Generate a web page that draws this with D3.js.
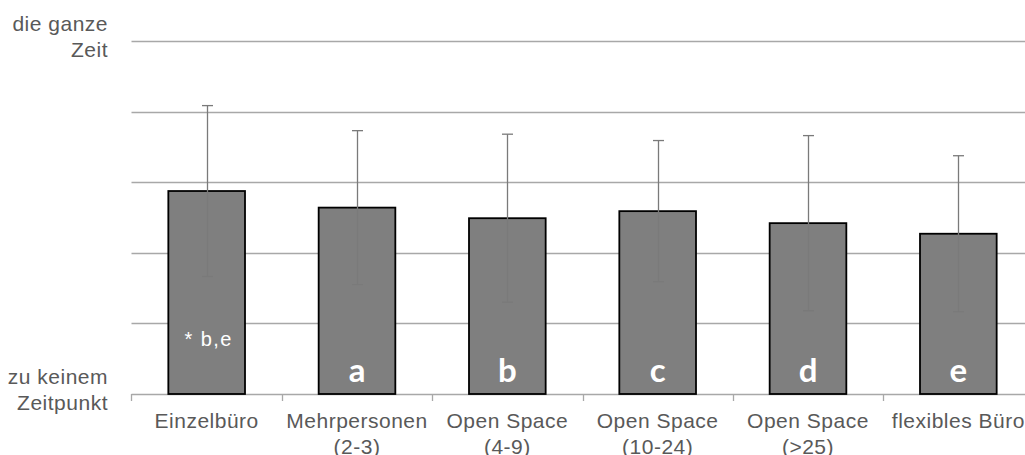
<!DOCTYPE html>
<html>
<head>
<meta charset="utf-8">
<script src="https://cdn.jsdelivr.net/npm/d3@7"></script>
<style>
  html, body { margin: 0; padding: 0; background: #fff; }
  svg { display: block; }
</style>
</head>
<body>
<svg id="chart" width="1025" height="455"></svg>
<script>
// ---- data ----
const categories = [
  ["Einzelbüro"],
  ["Mehrpersonen", "(2-3)"],
  ["Open Space", "(4-9)"],
  ["Open Space", "(10-24)"],
  ["Open Space", "(>25)"],
  ["flexibles Büro"]
];
const means = [2.875, 2.64, 2.49, 2.59, 2.42, 2.27];
const sds = [1.21, 1.09, 1.19, 1.0, 1.24, 1.105];
const barLetters = ["", "a", "b", "c", "d", "e"];
const noteLabels = ["* b,e", "", "", "", "", ""];
const yTicks = [0, 1, 2, 3, 4, 5];
const yTopLabel = ["die ganze", "Zeit"];
const yBottomLabel = ["zu keinem", "Zeitpunkt"];

// ---- layout ----
const svg = d3.select("#chart");
const plotLeft = 131.5, plotRight = 1033.5, plotTop = 41, plotBottom = 394;
const keys = categories.map((c, i) => "c" + i);

const x = d3.scaleBand().domain(keys).range([plotLeft, plotRight])
  .paddingInner(0.49).paddingOuter(0.245);
const y = d3.scaleLinear().domain([0, 5]).range([plotBottom, plotTop]);

const textColor = "#595959";
const gridColor = "#a8a8a8";
const font = "'Liberation Sans', Arial, sans-serif";

// gridlines
svg.append("g").selectAll("line").data(yTicks.filter(t => t > 0)).join("line")
  .attr("x1", plotLeft).attr("x2", plotRight)
  .attr("y1", d => Math.round(y(d)) + 0.5).attr("y2", d => Math.round(y(d)) + 0.5)
  .attr("stroke", gridColor).attr("stroke-width", 1.3);

// x axis (baseline + ticks at band boundaries)
const step = x.step();
const off = (step - x.bandwidth()) / 2;
const boundaries = keys.map(k => x(k) - off).concat([x(keys[keys.length - 1]) + x.bandwidth() + off]);
const xAxis = svg.append("g");
xAxis.append("line")
  .attr("x1", plotLeft).attr("x2", plotRight)
  .attr("y1", Math.round(y(0)) + 0.5).attr("y2", Math.round(y(0)) + 0.5)
  .attr("stroke", gridColor).attr("stroke-width", 1.3);
xAxis.selectAll("line.tick").data(boundaries).join("line").attr("class", "tick")
  .attr("x1", d => Math.round(d) + 0.5).attr("x2", d => Math.round(d) + 0.5)
  .attr("y1", y(0)).attr("y2", y(0) + 7)
  .attr("stroke", gridColor).attr("stroke-width", 1.3);

// bars
svg.append("g").selectAll("rect").data(means).join("rect")
  .attr("x", (d, i) => x(keys[i]))
  .attr("y", d => y(d))
  .attr("width", x.bandwidth())
  .attr("height", d => y(0) - y(d))
  .attr("fill", "#7f7f7f")
  .attr("stroke", "#000")
  .attr("stroke-width", 1.8);

// error bars
const eb = svg.append("g").attr("stroke", "#7a7a7a").attr("stroke-width", 1.3);
means.forEach((m, i) => {
  const cx = Math.round(x(keys[i]) + x.bandwidth() / 2) + 0.5;
  const y1 = y(m + sds[i]), y2 = y(m - sds[i]);
  eb.append("line").attr("x1", cx).attr("x2", cx).attr("y1", y1).attr("y2", y2);
  eb.append("line").attr("x1", cx - 5.5).attr("x2", cx + 5.5).attr("y1", y1).attr("y2", y1);
  eb.append("line").attr("x1", cx - 5.5).attr("x2", cx + 5.5).attr("y1", y2).attr("y2", y2);
});

// letters in bars
svg.append("g").selectAll("text").data(barLetters).join("text")
  .attr("x", (d, i) => x(keys[i]) + x.bandwidth() / 2)
  .attr("y", 382)
  .attr("text-anchor", "middle")
  .attr("fill", "#fff")
  .attr("font-family", "Lato, 'Open Sans', sans-serif")
  .attr("font-weight", "bold")
  .attr("font-size", 33)
  .text(d => d);

svg.append("g").selectAll("text").data(noteLabels).join("text")
  .attr("x", (d, i) => x(keys[i]) + x.bandwidth() / 2 + 2)
  .attr("y", 346)
  .attr("text-anchor", "middle")
  .attr("fill", "#fff")
  .attr("font-family", font)
  .attr("font-size", 20)
  .attr("letter-spacing", 1.4)
  .text(d => d);

// category labels
const catG = svg.append("g");
categories.forEach((lines, i) => {
  const t = catG.append("text")
    .attr("x", x(keys[i]) + x.bandwidth() / 2)
    .attr("y", 428)
    .attr("text-anchor", "middle")
    .attr("fill", textColor)
    .attr("font-family", font)
    .attr("font-size", 21)
    .attr("letter-spacing", 0.5);
  lines.forEach((ln, j) => {
    t.append("tspan").attr("x", x(keys[i]) + x.bandwidth() / 2)
      .attr("dy", j === 0 ? 0 : 25.7).text(ln);
  });
});

// y end labels
function yLabel(lines, baseline) {
  const t = svg.append("text")
    .attr("x", 108).attr("y", baseline)
    .attr("text-anchor", "end")
    .attr("fill", textColor)
    .attr("font-family", font)
    .attr("font-size", 21)
    .attr("letter-spacing", 0.5);
  lines.forEach((ln, j) => {
    t.append("tspan").attr("x", 108).attr("dy", j === 0 ? 0 : 25.7).text(ln);
  });
}
yLabel(yTopLabel, 31);
yLabel(yBottomLabel, 384.3);
</script>
</body>
</html>
